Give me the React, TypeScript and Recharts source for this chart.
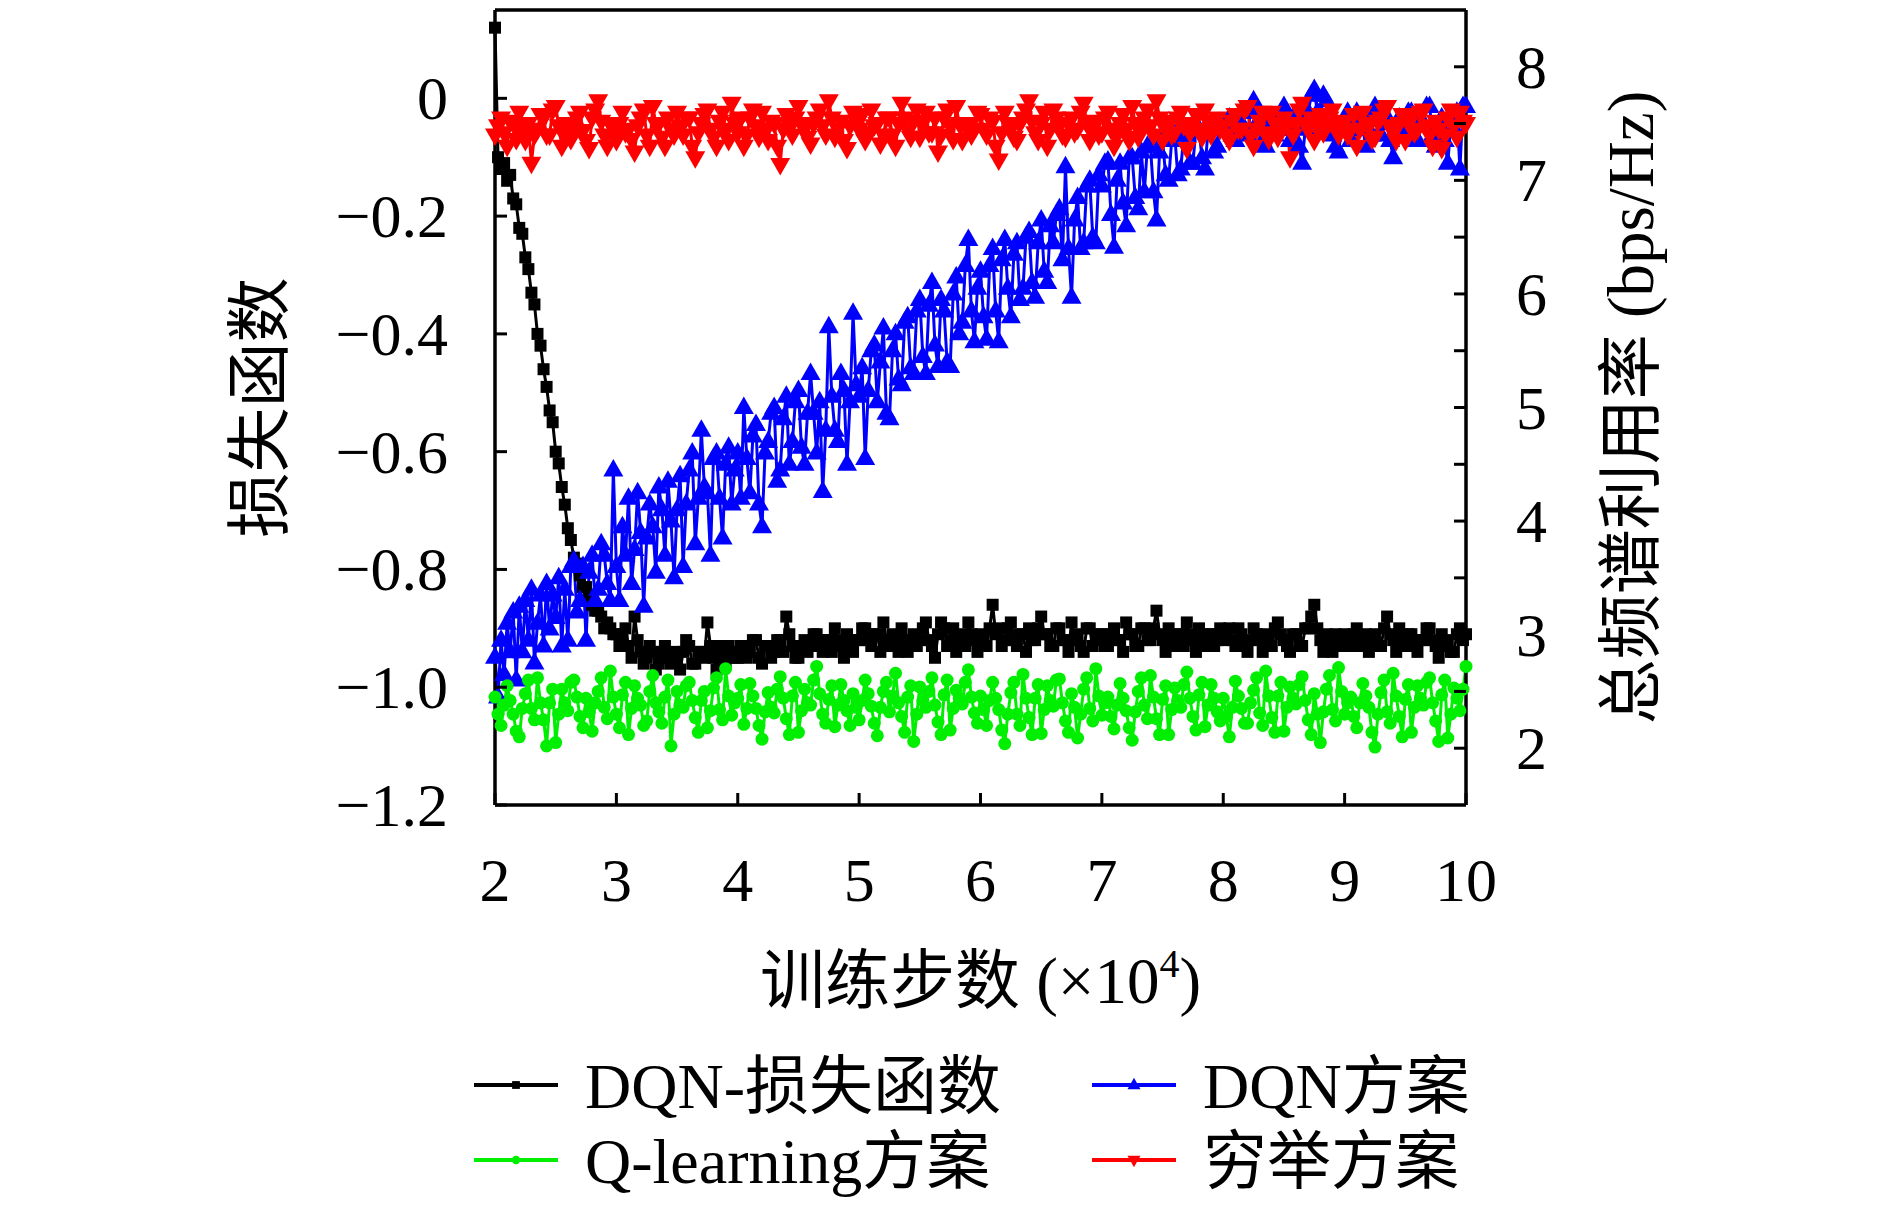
import { Legend, Line, LineChart, ReferenceLine, XAxis, YAxis } from "recharts";

// training steps (x10^4), one sample every 250 steps
const steps = [
  2, 2.025, 2.05, 2.075, 2.1, 2.125, 2.15, 2.175, 2.2, 2.225,
  2.25, 2.275, 2.3, 2.325, 2.35, 2.375, 2.4, 2.425, 2.45, 2.475,
  2.5, 2.525, 2.55, 2.575, 2.6, 2.625, 2.65, 2.675, 2.7, 2.725,
  2.75, 2.775, 2.8, 2.825, 2.85, 2.875, 2.9, 2.925, 2.95, 2.975,
  3, 3.025, 3.05, 3.075, 3.1, 3.125, 3.15, 3.175, 3.2, 3.225,
  3.25, 3.275, 3.3, 3.325, 3.35, 3.375, 3.4, 3.425, 3.45, 3.475,
  3.5, 3.525, 3.55, 3.575, 3.6, 3.625, 3.65, 3.675, 3.7, 3.725,
  3.75, 3.775, 3.8, 3.825, 3.85, 3.875, 3.9, 3.925, 3.95, 3.975,
  4, 4.025, 4.05, 4.075, 4.1, 4.125, 4.15, 4.175, 4.2, 4.225,
  4.25, 4.275, 4.3, 4.325, 4.35, 4.375, 4.4, 4.425, 4.45, 4.475,
  4.5, 4.525, 4.55, 4.575, 4.6, 4.625, 4.65, 4.675, 4.7, 4.725,
  4.75, 4.775, 4.8, 4.825, 4.85, 4.875, 4.9, 4.925, 4.95, 4.975,
  5, 5.025, 5.05, 5.075, 5.1, 5.125, 5.15, 5.175, 5.2, 5.225,
  5.25, 5.275, 5.3, 5.325, 5.35, 5.375, 5.4, 5.425, 5.45, 5.475,
  5.5, 5.525, 5.55, 5.575, 5.6, 5.625, 5.65, 5.675, 5.7, 5.725,
  5.75, 5.775, 5.8, 5.825, 5.85, 5.875, 5.9, 5.925, 5.95, 5.975,
  6, 6.025, 6.05, 6.075, 6.1, 6.125, 6.15, 6.175, 6.2, 6.225,
  6.25, 6.275, 6.3, 6.325, 6.35, 6.375, 6.4, 6.425, 6.45, 6.475,
  6.5, 6.525, 6.55, 6.575, 6.6, 6.625, 6.65, 6.675, 6.7, 6.725,
  6.75, 6.775, 6.8, 6.825, 6.85, 6.875, 6.9, 6.925, 6.95, 6.975,
  7, 7.025, 7.05, 7.075, 7.1, 7.125, 7.15, 7.175, 7.2, 7.225,
  7.25, 7.275, 7.3, 7.325, 7.35, 7.375, 7.4, 7.425, 7.45, 7.475,
  7.5, 7.525, 7.55, 7.575, 7.6, 7.625, 7.65, 7.675, 7.7, 7.725,
  7.75, 7.775, 7.8, 7.825, 7.85, 7.875, 7.9, 7.925, 7.95, 7.975,
  8, 8.025, 8.05, 8.075, 8.1, 8.125, 8.15, 8.175, 8.2, 8.225,
  8.25, 8.275, 8.3, 8.325, 8.35, 8.375, 8.4, 8.425, 8.45, 8.475,
  8.5, 8.525, 8.55, 8.575, 8.6, 8.625, 8.65, 8.675, 8.7, 8.725,
  8.75, 8.775, 8.8, 8.825, 8.85, 8.875, 8.9, 8.925, 8.95, 8.975,
  9, 9.025, 9.05, 9.075, 9.1, 9.125, 9.15, 9.175, 9.2, 9.225,
  9.25, 9.275, 9.3, 9.325, 9.35, 9.375, 9.4, 9.425, 9.45, 9.475,
  9.5, 9.525, 9.55, 9.575, 9.6, 9.625, 9.65, 9.675, 9.7, 9.725,
  9.75, 9.775, 9.8, 9.825, 9.85, 9.875, 9.9, 9.925, 9.95, 9.975,
  10
];

// left axis: loss
const dqnLoss = [
  0.12, -0.1, -0.12, -0.11, -0.14, -0.13, -0.17, -0.18, -0.22, -0.23,
  -0.27, -0.29, -0.33, -0.35, -0.4, -0.42, -0.46, -0.49, -0.53, -0.55,
  -0.6, -0.62, -0.66, -0.69, -0.73, -0.75, -0.78, -0.79, -0.81, -0.83,
  -0.83, -0.85, -0.86, -0.87, -0.87, -0.88, -0.9, -0.89, -0.9, -0.91,
  -0.91, -0.93, -0.92, -0.9, -0.93, -0.95, -0.88, -0.92, -0.94, -0.96,
  -0.95, -0.93, -0.94, -0.97, -0.96, -0.94, -0.93, -0.95, -0.96, -0.94,
  -0.95, -0.97, -0.94, -0.92, -0.93, -0.96, -0.96, -0.94, -0.94, -0.95,
  -0.89, -0.93, -0.95, -0.97, -0.93, -0.95, -0.96, -0.93, -0.94, -0.95,
  -0.95, -0.93, -0.93, -0.95, -0.94, -0.92, -0.92, -0.95, -0.96, -0.93,
  -0.93, -0.95, -0.94, -0.92, -0.92, -0.94, -0.88, -0.91, -0.93, -0.95,
  -0.95, -0.93, -0.92, -0.94, -0.93, -0.91, -0.91, -0.93, -0.94, -0.92,
  -0.92, -0.94, -0.9, -0.92, -0.93, -0.95, -0.91, -0.93, -0.94, -0.92,
  -0.92, -0.9, -0.9, -0.92, -0.93, -0.91, -0.91, -0.94, -0.89, -0.92,
  -0.93, -0.91, -0.92, -0.94, -0.9, -0.92, -0.94, -0.92, -0.91, -0.93,
  -0.92, -0.9, -0.89, -0.92, -0.93, -0.95, -0.91, -0.89, -0.9, -0.93,
  -0.92, -0.9, -0.94, -0.92, -0.91, -0.93, -0.89, -0.91, -0.92, -0.94,
  -0.91, -0.92, -0.93, -0.9, -0.86, -0.91, -0.9, -0.93, -0.92, -0.9,
  -0.89, -0.92, -0.93, -0.91, -0.91, -0.94, -0.9, -0.92, -0.92, -0.9,
  -0.88, -0.91, -0.91, -0.93, -0.93, -0.9, -0.9, -0.92, -0.92, -0.94,
  -0.89, -0.92, -0.91, -0.93, -0.94, -0.9, -0.9, -0.93, -0.92, -0.91,
  -0.91, -0.93, -0.93, -0.91, -0.9, -0.92, -0.92, -0.94, -0.89, -0.91,
  -0.91, -0.93, -0.93, -0.9, -0.9, -0.92, -0.92, -0.9, -0.87, -0.91,
  -0.92, -0.94, -0.9, -0.92, -0.93, -0.91, -0.91, -0.93, -0.89, -0.91,
  -0.92, -0.94, -0.9, -0.92, -0.93, -0.91, -0.91, -0.93, -0.92, -0.9,
  -0.92, -0.91, -0.9, -0.92, -0.93, -0.9, -0.91, -0.93, -0.94, -0.92,
  -0.9, -0.91, -0.92, -0.94, -0.91, -0.92, -0.93, -0.9, -0.89, -0.91,
  -0.92, -0.93, -0.94, -0.91, -0.91, -0.93, -0.93, -0.9, -0.9, -0.88,
  -0.86, -0.9, -0.92, -0.94, -0.91, -0.93, -0.94, -0.91, -0.92, -0.93,
  -0.91, -0.92, -0.93, -0.91, -0.9, -0.93, -0.92, -0.91, -0.94, -0.92,
  -0.91, -0.93, -0.93, -0.9, -0.88, -0.91, -0.92, -0.94, -0.9, -0.92,
  -0.93, -0.91, -0.91, -0.93, -0.94, -0.92, -0.92, -0.9, -0.9, -0.92,
  -0.93, -0.95, -0.91, -0.93, -0.92, -0.94, -0.94, -0.91, -0.9, -0.92,
  -0.91
];

// right axis: spectral efficiency (bps/Hz)
const qLearningRate = [
  2.45, 2.3, 2.2, 2.38, 2.55, 2.42, 2.3, 2.15, 2.1, 2.35,
  2.48, 2.6, 2.35, 2.25, 2.62, 2.4, 2.25, 2.02, 2.4, 2.52,
  2.05, 2.3, 2.52, 2.4, 2.33, 2.58, 2.6, 2.45, 2.28, 2.18,
  2.44, 2.32, 2.15, 2.4, 2.5, 2.62, 2.36, 2.26, 2.68, 2.45,
  2.3, 2.18, 2.47, 2.58, 2.12, 2.35, 2.55, 2.44, 2.38, 2.2,
  2.24, 2.5, 2.64, 2.4, 2.32, 2.22, 2.45, 2.6, 2.02, 2.3,
  2.5, 2.38, 2.36, 2.55, 2.58, 2.42, 2.27, 2.14, 2.42, 2.5,
  2.18, 2.33, 2.53, 2.62, 2.34, 2.25, 2.7, 2.46, 2.29, 2.4,
  2.44, 2.56, 2.21, 2.35, 2.57, 2.46, 2.35, 2.2, 2.08, 2.32,
  2.49, 2.36, 2.31, 2.52, 2.63, 2.44, 2.26, 2.12, 2.46, 2.58,
  2.14, 2.33, 2.52, 2.4, 2.38, 2.6, 2.72, 2.48, 2.3, 2.22,
  2.43, 2.55, 2.19, 2.38, 2.56, 2.42, 2.33, 2.2, 2.48, 2.36,
  2.25, 2.42, 2.6, 2.48, 2.37, 2.22, 2.11, 2.36, 2.5, 2.58,
  2.32, 2.46, 2.66, 2.4, 2.28, 2.14, 2.45, 2.55, 2.06, 2.3,
  2.54, 2.42, 2.36, 2.5, 2.62, 2.38, 2.23, 2.12, 2.47, 2.6,
  2.16, 2.35, 2.51, 2.44, 2.39, 2.58, 2.69, 2.45, 2.31, 2.22,
  2.46, 2.34, 2.2, 2.42, 2.58, 2.44, 2.34, 2.16, 2.04, 2.3,
  2.49, 2.58, 2.3, 2.2, 2.65, 2.44, 2.27, 2.12, 2.44, 2.56,
  2.13, 2.34, 2.55, 2.42, 2.37, 2.6, 2.61, 2.4, 2.24, 2.14,
  2.48, 2.36, 2.09, 2.3, 2.52, 2.62, 2.35, 2.24, 2.7, 2.46,
  2.29, 2.4, 2.45, 2.28, 2.17, 2.38, 2.57, 2.44, 2.33, 2.18,
  2.07, 2.32, 2.5, 2.62, 2.38, 2.26, 2.64, 2.45, 2.26, 2.12,
  2.43, 2.55, 2.12, 2.34, 2.53, 2.42, 2.36, 2.56, 2.67, 2.44,
  2.28, 2.16, 2.47, 2.58, 2.19, 2.38, 2.56, 2.44, 2.32, 2.24,
  2.44, 2.28, 2.1, 2.36, 2.59, 2.46, 2.35, 2.22, 2.22, 2.4,
  2.51, 2.62, 2.31, 2.2, 2.68, 2.46, 2.27, 2.14, 2.46, 2.58,
  2.15, 2.36, 2.54, 2.44, 2.39, 2.56, 2.63, 2.42, 2.25, 2.12,
  2.48, 2.3, 2.05, 2.32, 2.52, 2.64, 2.34, 2.24, 2.71, 2.5,
  2.3, 2.4, 2.45, 2.28, 2.18, 2.4, 2.57, 2.46, 2.36, 2.14,
  2.01, 2.3, 2.49, 2.6, 2.32, 2.22, 2.66, 2.46, 2.28, 2.1,
  2.43, 2.56, 2.14, 2.36, 2.55, 2.44, 2.38, 2.58, 2.62, 2.4,
  2.24, 2.06, 2.47, 2.6, 2.09, 2.3, 2.53, 2.44, 2.33, 2.52,
  2.72
];

const dqnRate = [
  2.8, 2.45, 2.95, 2.65, 3.1, 2.85, 3.2, 2.6, 3.25, 2.85,
  3.3, 2.95, 3.4, 2.75, 3.1, 3.35, 2.9, 3.45, 3.05, 3.35,
  3.15, 3.5, 2.9, 3.4, 2.95, 3.6, 3.65, 3.2, 3.3, 3.6,
  2.95, 3.55, 3.7, 3.3, 3.4, 3.8, 3.7, 3.45, 3.3, 4.45,
  3.6, 3.3, 3.95, 3.7, 4.2, 3.45, 3.75, 4.25, 3.9, 3.25,
  3.85, 4.15, 3.95, 3.55, 4.3, 4.1, 3.7, 4.35, 4.0, 3.5,
  4.1, 4.4, 3.6, 4.15, 4.45, 4.6, 3.8, 4.2, 4.8, 4.3,
  4.25, 3.7, 4.55, 4.6, 4.2, 3.85, 4.5, 4.65, 4.15, 4.45,
  4.6, 4.2, 5.0, 4.55, 4.25, 4.75, 4.85, 4.15, 3.95, 4.6,
  4.7, 4.95, 5.0, 4.35, 4.45, 4.9, 5.1, 4.5, 4.7, 5.05,
  5.15, 4.65, 4.5, 4.95, 5.3, 4.95, 4.6, 5.05, 4.26, 4.8,
  5.71, 5.1, 4.8, 4.7, 5.3, 5.15, 4.5, 5.05, 5.83, 5.2,
  5.1, 5.35, 4.55, 5.15, 5.5, 5.55, 5.05, 5.4, 5.7, 4.95,
  4.9, 5.5, 5.65, 5.25, 5.2, 5.75, 5.8, 5.35, 5.3, 5.85,
  5.95, 5.45, 5.3, 5.9, 6.1, 5.55, 5.36, 5.95, 5.85, 5.4,
  5.36, 6.0, 6.15, 5.65, 5.75, 6.25, 6.48, 5.85, 5.58, 6.05,
  6.2, 5.8, 5.6, 6.25, 6.4, 5.85, 5.58, 6.3, 6.48, 6.05,
  5.8, 6.35, 6.45, 5.95, 6.05, 6.5, 6.55, 6.1, 5.97, 6.45,
  6.65, 6.2, 6.1, 6.6, 6.45, 6.7, 6.75, 6.3, 7.12, 6.4,
  5.97, 6.65, 6.85, 6.4, 6.45, 6.95, 7.0, 6.5, 6.45, 7.05,
  6.95, 7.15, 7.17, 6.7, 6.41, 7.0, 7.15, 6.8, 6.6, 7.2,
  7.2, 6.85, 6.75, 7.25, 6.9, 7.3, 7.3, 6.9, 6.65, 7.25,
  7.35, 7.05, 7.0, 7.35, 7.4, 7.05, 7.1, 7.4, 7.4, 7.15,
  7.15, 7.45, 7.45, 7.2, 7.1, 7.45, 7.5, 7.25, 7.3, 7.5,
  7.45, 7.5, 7.55, 7.4, 7.35, 7.55, 7.6, 7.45, 7.4, 7.6,
  7.7, 7.5, 7.5, 7.35, 7.3, 7.5, 7.55, 7.4, 7.45, 7.6,
  7.65, 7.45, 7.35, 7.55, 7.5, 7.3, 7.15, 7.45, 7.6, 7.75,
  7.8, 7.6, 7.55, 7.75, 7.7, 7.5, 7.4, 7.3, 7.25, 7.45,
  7.5, 7.6, 7.35, 7.5, 7.6, 7.45, 7.45, 7.3, 7.55, 7.4,
  7.65, 7.55, 7.4, 7.6, 7.5, 7.35, 7.2, 7.45, 7.55, 7.4,
  7.45, 7.6, 7.6, 7.4, 7.35, 7.5, 7.5, 7.65, 7.65, 7.4,
  7.3, 7.45, 7.55, 7.35, 7.15, 7.5, 7.45, 7.6, 7.1, 7.65,
  7.65
];

const exhaustiveRate = [
  7.4, 7.48, 7.55, 7.42, 7.3, 7.52, 7.5, 7.36, 7.6, 7.45,
  7.35, 7.5, 7.15, 7.4, 7.45, 7.58, 7.55, 7.4, 7.4, 7.62,
  7.65, 7.48, 7.3, 7.42, 7.5, 7.36, 7.45, 7.55, 7.6, 7.44,
  7.35, 7.28, 7.55, 7.62, 7.7, 7.52, 7.4, 7.3, 7.5, 7.45,
  7.35, 7.5, 7.6, 7.42, 7.45, 7.36, 7.25, 7.48, 7.55, 7.62,
  7.4, 7.3, 7.65, 7.5, 7.5, 7.38, 7.3, 7.55, 7.45, 7.4,
  7.6, 7.48, 7.4, 7.55, 7.55, 7.3, 7.2, 7.42, 7.5, 7.58,
  7.62, 7.45, 7.38, 7.3, 7.52, 7.6, 7.45, 7.35, 7.68, 7.5,
  7.42, 7.55, 7.3, 7.4, 7.55, 7.62, 7.48, 7.38, 7.6, 7.45,
  7.35, 7.52, 7.5, 7.3, 7.14, 7.45, 7.58, 7.48, 7.4, 7.55,
  7.65, 7.5, 7.45, 7.38, 7.32, 7.5, 7.55, 7.62, 7.48, 7.4,
  7.7, 7.55, 7.38, 7.45, 7.52, 7.35, 7.28, 7.48, 7.6, 7.52,
  7.45, 7.58, 7.35, 7.42, 7.62, 7.48, 7.5, 7.32, 7.4, 7.55,
  7.55, 7.4, 7.3, 7.5, 7.68, 7.55, 7.45, 7.38, 7.52, 7.62,
  7.38, 7.5, 7.6, 7.42, 7.42, 7.55, 7.25, 7.4, 7.55, 7.62,
  7.48, 7.36, 7.65, 7.5, 7.35, 7.48, 7.5, 7.4, 7.45, 7.6,
  7.58, 7.45, 7.4, 7.55, 7.52, 7.3, 7.18, 7.42, 7.6, 7.5,
  7.45, 7.38, 7.35, 7.5, 7.55, 7.62, 7.7, 7.52, 7.42, 7.35,
  7.5, 7.6, 7.3, 7.45, 7.62, 7.55, 7.48, 7.4, 7.38, 7.5,
  7.55, 7.42, 7.45, 7.6, 7.68, 7.5, 7.35, 7.45, 7.52, 7.4,
  7.42, 7.55, 7.6, 7.45, 7.3, 7.4, 7.5, 7.58, 7.45, 7.35,
  7.65, 7.5, 7.38, 7.48, 7.55, 7.62, 7.48, 7.4, 7.7, 7.55,
  7.35, 7.45, 7.52, 7.4, 7.42, 7.55, 7.6, 7.48, 7.28, 7.42,
  7.5, 7.58, 7.45, 7.38, 7.62, 7.52, 7.4, 7.48, 7.55, 7.45,
  7.48, 7.4, 7.35, 7.52, 7.58, 7.45, 7.45, 7.62, 7.65, 7.4,
  7.3, 7.45, 7.52, 7.6, 7.42, 7.36, 7.6, 7.5, 7.38, 7.45,
  7.55, 7.48, 7.2, 7.4, 7.5, 7.62, 7.68, 7.5, 7.45, 7.55,
  7.35, 7.48, 7.58, 7.42, 7.48, 7.55, 7.62, 7.5, 7.4, 7.48,
  7.52, 7.4, 7.45, 7.58, 7.3, 7.45, 7.6, 7.5, 7.48, 7.36,
  7.38, 7.52, 7.55, 7.62, 7.65, 7.48, 7.42, 7.35, 7.5, 7.58,
  7.35, 7.5, 7.58, 7.42, 7.45, 7.6, 7.62, 7.48, 7.4, 7.3,
  7.52, 7.45, 7.28, 7.4, 7.55, 7.62, 7.48, 7.38, 7.6, 7.52,
  7.5
];

const xTicks = [2, 3, 4, 5, 6, 7, 8, 9, 10];
const lossTicks = [-1.2, -1.0, -0.8, -0.6, -0.4, -0.2, 0];
const rateTicks = [2, 2.5, 3, 3.5, 4, 4.5, 5, 5.5, 6, 6.5, 7, 7.5, 8];

const data = steps.map((step, i) => ({
  step,
  loss: dqnLoss[i],
  dqn: dqnRate[i],
  ql: qLearningRate[i],
  ex: exhaustiveRate[i]
}));

const FONT = "'Liberation Serif', 'Noto Sans CJK SC', serif";
const TICK_LEN = 12;
const FRAME = 3.5;
const BLUE = "#0000ff";
const GREEN = "#00ee00";
const RED = "#ff0000";

function fmtLoss(v: number) {
  return v === 0 ? "0" : "\u2212" + Math.abs(v).toFixed(1);
}

function Marker({ shape, cx, cy, color, s = 1 }: { shape: string; cx: number; cy: number; color: string; s?: number }) {
  if (cx == null || cy == null) return null;
  if (shape === "square") {
    return <rect x={cx - 6 * s} y={cy - 6 * s} width={12 * s} height={12 * s} fill={color} />;
  }
  if (shape === "circle") {
    return <circle cx={cx} cy={cy} r={6.5 * s} fill={color} />;
  }
  if (shape === "up") {
    return <polygon points={`${cx},${cy - 11 * s} ${cx - 10 * s},${cy + 6.5 * s} ${cx + 10 * s},${cy + 6.5 * s}`} fill={color} />;
  }
  return <polygon points={`${cx},${cy + 11 * s} ${cx - 10 * s},${cy - 6.5 * s} ${cx + 10 * s},${cy - 6.5 * s}`} fill={color} />;
}

function dotFor(shape: string, color: string) {
  return (props: any) => <Marker key={`${shape}-${props.index}`} shape={shape} cx={props.cx} cy={props.cy} color={color} />;
}

function BottomTick({ x, y, payload }: any) {
  return (
    <g>
      <line x1={x} x2={x} y1={y} y2={y - TICK_LEN} stroke="#000" strokeWidth={3} />
      <text x={x} y={y + 96} textAnchor="middle" fontSize={62} fontFamily={FONT} fill="#000">
        {payload.value}
      </text>
    </g>
  );
}

function LeftTick({ x, y, payload }: any) {
  return (
    <g>
      <line x1={x} x2={x + TICK_LEN} y1={y} y2={y} stroke="#000" strokeWidth={3} />
      <text x={x - 47} y={y + 21} textAnchor="end" fontSize={62} fontFamily={FONT} fill="#000">
        {fmtLoss(payload.value)}
      </text>
    </g>
  );
}

function RightTick({ x, y, payload }: any) {
  const v = payload.value;
  return (
    <g>
      <line x1={x} x2={x - TICK_LEN} y1={y} y2={y} stroke="#000" strokeWidth={3} />
      {Number.isInteger(v) && (
        <text x={x + 50} y={y + 21} textAnchor="start" fontSize={62} fontFamily={FONT} fill="#000">
          {v}
        </text>
      )}
    </g>
  );
}

const legendItems = [
  { label: "DQN-损失函数", color: "#000", shape: "square", col: 0, row: 0 },
  { label: "DQN方案", color: BLUE, shape: "up", col: 1, row: 0 },
  { label: "Q-learning方案", color: GREEN, shape: "circle", col: 0, row: 1 },
  { label: "穷举方案", color: RED, shape: "down", col: 1, row: 1 }
];

function LegendBox() {
  const colX = [466, 1084];
  const rowY = [88, 163];
  return (
    <svg width={1874} height={200} style={{ display: "block" }}>
      {legendItems.map((item) => {
        const x0 = colX[item.col];
        const y = rowY[item.row];
        return (
          <g key={item.label}>
            <line x1={x0} x2={x0 + 84} y1={y} y2={y} stroke={item.color} strokeWidth={4} />
            <Marker shape={item.shape} cx={x0 + 42} cy={y} color={item.color} s={0.65} />
            <text x={x0 + 111} y={y + 23} fontSize={64} fontFamily={FONT} fill="#000">
              {item.label}
            </text>
          </g>
        );
      })}
    </svg>
  );
}

export default function App() {
  return (
    <LineChart width={1874} height={1189} data={data} margin={{ top: 2, right: 0, left: 0, bottom: 0 }}>
      <XAxis
        dataKey="step"
        type="number"
        domain={[2, 10]}
        ticks={xTicks}
        interval={0}
        height={192}
        tickSize={0}
        tickMargin={0}
        tickLine={false}
        tick={<BottomTick />}
        axisLine={{ stroke: "#000", strokeWidth: FRAME }}
        label={{
          content: ({ viewBox }: any) => (
            <text
              x={viewBox.x + viewBox.width / 2}
              y={viewBox.y + 198}
              textAnchor="middle"
              fontSize={65}
              fontFamily={FONT}
              fill="#000"
            >
              训练步数 (×10<tspan dy={-26} fontSize={40}>4</tspan>
              <tspan dy={26}>)</tspan>
            </text>
          )
        }}
      />
      <YAxis
        yAxisId="left"
        type="number"
        domain={[-1.2, 0.15]}
        ticks={lossTicks}
        interval={0}
        allowDataOverflow
        width={487}
        tickSize={0}
        tickMargin={0}
        tickLine={false}
        tick={<LeftTick />}
        axisLine={{ stroke: "#000", strokeWidth: FRAME }}
        label={{
          content: ({ viewBox }: any) => {
            const cx = 251;
            const cy = viewBox.y + viewBox.height / 2;
            return (
              <text
                x={cx}
                y={cy}
                dy={23}
                textAnchor="middle"
                fontSize={65}
                fontFamily={FONT}
                fill="#000"
                transform={`rotate(-90, ${cx}, ${cy})`}
              >
                损失函数
              </text>
            );
          }
        }}
      />
      <YAxis
        yAxisId="right"
        orientation="right"
        type="number"
        domain={[1.5, 8.5]}
        ticks={rateTicks}
        interval={0}
        allowDataOverflow
        width={416}
        tickSize={0}
        tickMargin={0}
        tickLine={false}
        tick={<RightTick />}
        axisLine={{ stroke: "#000", strokeWidth: FRAME }}
        label={{
          content: ({ viewBox }: any) => {
            const cx = viewBox.x + 164;
            const cy = viewBox.y + viewBox.height / 2;
            return (
              <text
                x={cx}
                y={cy}
                dy={23}
                textAnchor="middle"
                fontSize={65}
                fontFamily={FONT}
                fill="#000"
                transform={`rotate(-90, ${cx}, ${cy})`}
              >
                总频谱利用率 (bps/Hz)
              </text>
            );
          }
        }}
      />
      {/* top edge of the frame */}
      <ReferenceLine yAxisId="left" y={0.15} stroke="#000" strokeWidth={FRAME} ifOverflow="visible" />
      <Legend
        verticalAlign="bottom"
        height={200}
        content={() => <LegendBox />}
        wrapperStyle={{ left: 0, bottom: 0, width: 1874, height: 200 }}
      />
      <Line
        yAxisId="left"
        dataKey="loss"
        type="linear"
        stroke="#000"
        strokeWidth={3}
        dot={dotFor("square", "#000")}
        isAnimationActive={false}
      />
      <Line
        yAxisId="right"
        dataKey="dqn"
        type="linear"
        stroke={BLUE}
        strokeWidth={3}
        dot={dotFor("up", BLUE)}
        isAnimationActive={false}
      />
      <Line
        yAxisId="right"
        dataKey="ql"
        type="linear"
        stroke={GREEN}
        strokeWidth={3}
        dot={dotFor("circle", GREEN)}
        isAnimationActive={false}
      />
      <Line
        yAxisId="right"
        dataKey="ex"
        type="linear"
        stroke={RED}
        strokeWidth={3}
        dot={dotFor("down", RED)}
        isAnimationActive={false}
      />
    </LineChart>
  );
}
